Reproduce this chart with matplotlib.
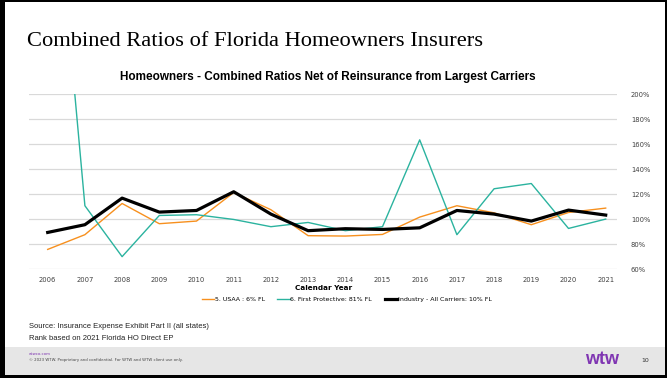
import matplotlib.pyplot as plt
from matplotlib.patches import Rectangle

# Chart data
YEARS = list(range(2006, 2022))
USAA = [75.7, 87.5, 112.5, 96.3, 98.4, 121.3, 107.5, 86.7, 86.4, 87.7,
        101.6, 110.7, 105.0, 95.5, 105.3, 108.8]
FIRST_PROTECTIVE = [440.0, 110.7, 69.9, 102.9, 103.5, 99.7, 93.9, 97.3, 90.7, 93.9,
                    163.5, 87.5, 124.3, 128.5, 92.5, 100.0]
INDUSTRY = [89.3, 95.5, 116.8, 105.6, 106.9, 121.9, 104.0, 90.7, 92.3, 91.7,
            93.0, 106.9, 104.0, 98.4, 107.2, 103.2]
SERIES_LABELS = ['5. USAA : 6% FL', '6. First Protective: 81% FL',
                 'Industry - All Carriers: 10% FL']
Y_TICKS = [60, 80, 100, 120, 140, 160, 180, 200]

W, H = 667, 378
fig = plt.figure(figsize=(W / 100, H / 100), dpi=100)
fig.patch.set_facecolor('white')

# Plot area
ax = fig.add_axes([29.3 / W, 1 - 269 / H, (617 - 29.3) / W, (269 - 94.3) / H])
ax.plot(YEARS, USAA, color='#f7901e', lw=1.0, label=SERIES_LABELS[0], zorder=3)
ax.plot(YEARS, FIRST_PROTECTIVE, color='#2bb39f', lw=1.0, label=SERIES_LABELS[1], zorder=3)
ax.plot(YEARS, INDUSTRY, color='black', lw=2.3, label=SERIES_LABELS[2], zorder=4)

ax.set_xlim(2006 - 18.4 / 37.2, 2021 + 11.3 / 37.2)
ax.set_ylim(60, 200)
ax.set_xticks(YEARS)
ax.set_xticklabels([str(y) for y in YEARS])
ax.set_yticks(Y_TICKS)
ax.set_yticklabels([f'{v}%' for v in Y_TICKS])
ax.yaxis.tick_right()
ax.tick_params(axis='both', length=0, labelsize=4.9, colors='#404040')
ax.tick_params(axis='y', pad=10)
ax.tick_params(axis='x', pad=6)
ax.grid(axis='y', color='#d9d9d9', lw=0.9)
for spine in ax.spines.values():
    spine.set_visible(False)
ax.set_xlabel('Calendar Year', fontsize=5.2, fontweight='bold', labelpad=1)

# legend sits a bit right of the plot centre in the original
ax.legend(loc='center', bbox_to_anchor=(0.54, 1 - (299 - 94.3) / (269 - 94.3)),
          ncol=3, frameon=False, fontsize=4.5, handlelength=2.0,
          handletextpad=0.1, columnspacing=2.0)

# Titles
fig.text(27 / W, 1 - 41 / H, 'Combined Ratios of Florida Homeowners Insurers',
         family='Liberation Serif', fontsize=16.2, va='center', ha='left')
fig.text(328 / W, 1 - 77 / H,
         'Homeowners - Combined Ratios Net of Reinsurance from Largest Carriers',
         family='Liberation Sans', fontsize=8.5, fontweight='bold', va='center', ha='center')

# Source notes
fig.text(29 / W, 1 - 327 / H, 'Source: Insurance Expense Exhibit Part II (all states)',
         family='Liberation Sans', fontsize=5.5, va='center', color='#222222')
fig.text(29 / W, 1 - 339 / H, 'Rank based on 2021 Florida HO Direct EP',
         family='Liberation Sans', fontsize=5.5, va='center', color='#222222')

# Footer band
fig.add_artist(Rectangle((0, 1 - 375 / H), 1, 28 / H, transform=fig.transFigure,
                         facecolor='#e6e6e6', edgecolor='none', zorder=0))
fig.text(29 / W, 1 - 354 / H, 'wtwco.com', fontsize=2.8, color='#7f35b2', va='center')
fig.text(29 / W, 1 - 360.5 / H,
         '\u00a9 2023 WTW. Proprietary and confidential. For WTW and WTW client use only.',
         fontsize=2.8, color='#444444', va='center')
fig.text(602 / W, 1 - 360 / H, 'wtw', family='Liberation Sans', fontsize=13,
         fontweight='bold', color='#7f35b2', va='center', ha='center')
fig.text(645 / W, 1 - 361 / H, '10', fontsize=4.5, color='#333333', va='center', ha='center')

# Slide border
for x, y, w, h in [(0, 0, 5, H), (0, 0, W, 2), (W - 2, 0, 2, H), (0, H - 3, W, 3)]:
    fig.add_artist(Rectangle((x / W, 1 - (y + h) / H), w / W, h / H,
                             transform=fig.transFigure, facecolor='black',
                             edgecolor='none', zorder=10))

fig.savefig('out.png', dpi=100)
